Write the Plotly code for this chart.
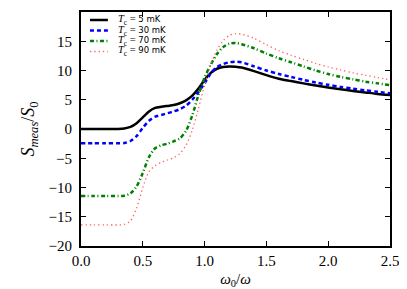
import plotly.graph_objects as go

x = [0, 0.1, 0.2, 0.3, 0.35, 0.4, 0.45, 0.5, 0.55, 0.6, 0.65, 0.7, 0.75, 0.8, 0.85, 0.9, 0.95,
     1.0, 1.05, 1.1, 1.15, 1.2, 1.25, 1.3, 1.4, 1.5, 1.6, 1.7, 1.8, 1.9, 2.0, 2.1, 2.2, 2.3, 2.4, 2.5]

s_5mK = [0, 0, 0, 0.02, 0.1, 0.35, 1.0, 2.0, 3.0, 3.6, 3.8, 3.95, 4.1, 4.4, 4.9, 5.7, 6.9,
         8.4, 9.6, 10.3, 10.6, 10.7, 10.65, 10.5, 9.9, 9.2, 8.6, 8.2, 7.8, 7.45, 7.1, 6.8, 6.5, 6.25, 6.0, 5.8]
s_30mK = [-2.45, -2.45, -2.45, -2.45, -2.4, -2.05, -1.2, 0.2, 1.4, 2.1, 2.4, 2.7, 3.0, 3.4, 4.0, 5.0, 6.3,
          7.8, 9.5, 10.6, 11.1, 11.4, 11.5, 11.4, 10.7, 10.0, 9.4, 8.9, 8.4, 7.95, 7.55, 7.2, 6.9, 6.6, 6.35, 6.1]
s_70mK = [-11.45, -11.45, -11.45, -11.45, -11.4, -11.0, -9.8, -7.5, -4.8, -3.3, -2.8, -2.5, -2.1, -1.6, -0.3, 2.3, 5.8,
          8.8, 11.0, 12.8, 14.0, 14.6, 14.7, 14.5, 13.8, 12.9, 12.1, 11.4, 10.7, 10.0, 9.4, 8.9, 8.5, 8.1, 7.8, 7.5]
s_90mK = [-16.4, -16.4, -16.4, -16.4, -16.3, -15.7, -13.5, -10.0, -7.3, -6.3, -5.7, -5.3, -4.9, -4.2, -2.8, -0.2, 3.5,
          7.5, 11.0, 13.5, 15.1, 16.0, 16.3, 16.2, 15.5, 14.4, 13.4, 12.6, 11.9, 11.2, 10.6, 10.1, 9.6, 9.2, 8.8, 8.4]

temps = ["5 mK", "30 mK", "70 mK", "90 mK"]
x_ticks = [0, 0.5, 1.0, 1.5, 2.0, 2.5]
x_ticklabels = ["0.0", "0.5", "1.0", "1.5", "2.0", "2.5"]
y_ticks = [-20, -15, -10, -5, 0, 5, 10, 15, 20]
y_ticklabels = ["\u221220", "\u221215", "\u221210", "\u22125", "0", "5", "10", "15", "20"]

styles = [
    dict(color="black", width=2.5, dash="solid"),
    dict(color="#0000ff", width=2.5, dash="4px,3px"),
    dict(color="#008000", width=2.5, dash="4px,2.5px,1px,2.5px"),
    dict(color="#ff6060", width=1.3, dash="1.3px,3px"),
]

SERIF = "Liberation Serif"
SANS = "DejaVu Sans"

fig = go.Figure()
for ys, lab, st in zip([s_5mK, s_30mK, s_70mK, s_90mK], temps, styles):
    fig.add_trace(go.Scatter(x=x, y=ys, mode="lines", name=lab, showlegend=False,
                             line=dict(shape="spline", smoothing=0.8, **st)))

# manual compact legend (matplotlib-like)
row_y = [0.9658, 0.9209, 0.8761, 0.8312]
for ry, lab, st in zip(row_y, temps, styles):
    fig.add_shape(type="line", xref="paper", yref="paper", x0=0.029, x1=0.087, y0=ry, y1=ry,
                  line=dict(color=st["color"], width=st["width"], dash=st["dash"]))
    fig.add_annotation(xref="paper", yref="paper", x=0.113, y=ry, xanchor="left", yanchor="middle",
                       showarrow=False, height=10, valign="middle",
                       text=("<i>T</i><sub>c</sub> = "
                             f"<span style='font-family:{SANS};font-size:8.5px'>{lab}</span>"),
                       font=dict(family=SERIF, size=10.5, color="black"))

axis_common = dict(showline=True, linecolor="black", linewidth=2, mirror="ticks",
                   ticks="inside", ticklen=5, tickwidth=1, tickcolor="black",
                   showgrid=False, zeroline=False, automargin=False,
                   tickfont=dict(family=SERIF, size=15, color="black"))

# the page body adds an 8px offset; the figure is sized to fit the 407x289 window
fig.update_layout(
    width=399, height=281,
    margin=dict(l=73, r=17, t=4, b=43),
    plot_bgcolor="white", paper_bgcolor="white",
    xaxis=dict(range=[0, 2.5], tickvals=x_ticks, ticktext=x_ticklabels,
               title=dict(text="<i>\u03c9</i><sub>0</sub>/<i>\u03c9</i>", standoff=6,
                          font=dict(family=SERIF, size=15, color="black")),
               **axis_common),
    yaxis=dict(range=[-20, 20], tickvals=y_ticks, ticktext=y_ticklabels, ticklabelstandoff=4,
               title=dict(text="<i>S</i><sub><i>meas</i></sub>/<i>S</i><sub>0</sub>", standoff=9,
                          font=dict(family=SERIF, size=18, color="black")),
               **axis_common),
    showlegend=False,
)

fig.write_html("out.html")
